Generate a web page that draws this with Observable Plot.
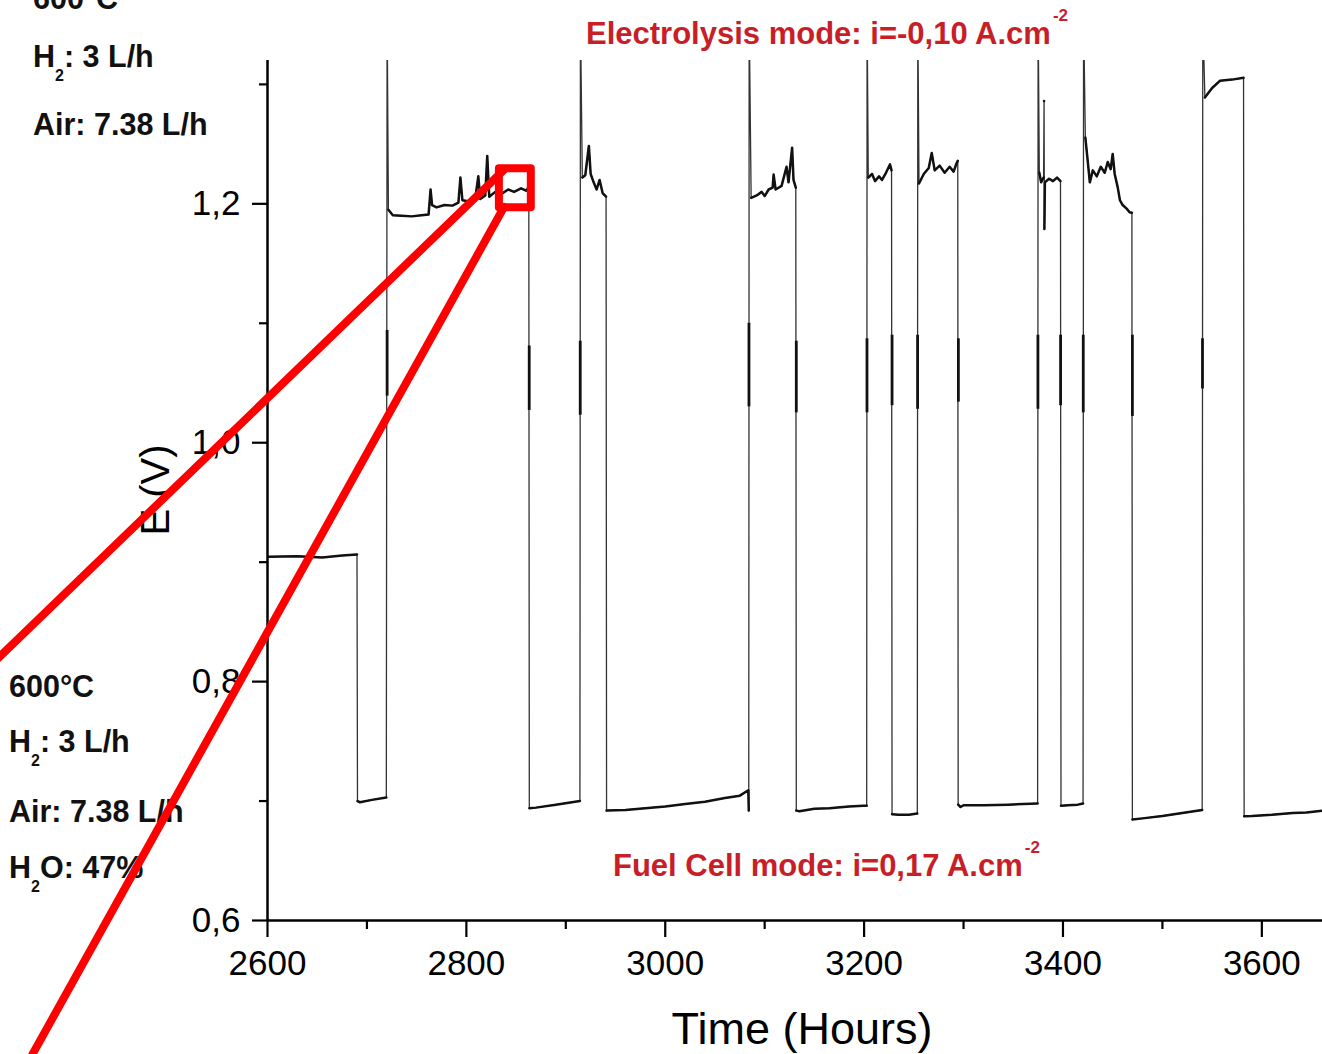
<!DOCTYPE html>
<html><head><meta charset="utf-8">
<script src="https://cdn.jsdelivr.net/npm/d3@7"></script>
<script src="https://cdn.jsdelivr.net/npm/@observablehq/plot@0.6"></script>
<style>
body{margin:0;background:#fff;}
#wrap{position:relative;width:1322px;height:1054px;overflow:hidden;font-family:"Liberation Sans",Arial,sans-serif;background:#fff;}
#labels{position:absolute;left:0;top:0;width:1322px;height:1054px;}
#chart{position:absolute;left:0;top:0;}
.lab{position:absolute;font-weight:bold;font-size:30.5px;color:#111;white-space:nowrap;line-height:1;}
.lab sub{font-size:16px;line-height:0;vertical-align:-14px;}
.red{position:absolute;font-weight:bold;font-size:31px;color:#c81e28;white-space:nowrap;line-height:1;}
.red sup{font-size:17px;line-height:0;vertical-align:23px;margin-left:2px;}
.ttl{position:absolute;white-space:nowrap;line-height:1;color:#000;}
</style>
</head><body>
<div id="wrap">
  <div id="labels">
    <div class="lab" style="left:33px;top:-17px">600°C</div>
    <div class="lab" style="left:33px;top:41px">H<sub>2</sub>: 3 L/h</div>
    <div class="lab" style="left:33px;top:109px">Air: 7.38 L/h</div>
    <div class="lab" style="left:9px;top:671px">600°C</div>
    <div class="lab" style="left:9px;top:726px">H<sub>2</sub>: 3 L/h</div>
    <div class="lab" style="left:9px;top:796px">Air: 7.38 L/h</div>
    <div class="lab" style="left:9px;top:852px">H<sub>2</sub>O: 47%</div>
    <div class="red" style="left:586px;top:16px">Electrolysis mode: i=-0,10 A.cm<sup>-2</sup></div>
    <div class="red" style="left:613px;top:848px">Fuel Cell mode: i=0,17 A.cm<sup>-2</sup></div>
    <div class="ttl" style="left:155px;top:490px;font-size:40px;transform:translate(-50%,-50%) rotate(-90deg);">E (V)</div>
    <div class="ttl" style="left:802px;top:1006px;font-size:45px;transform:translateX(-50%);">Time (Hours)</div>
  </div>
  <div id="chart"></div>
</div>
<script>
// ---- data ----
const timeH = [
  2600, 2630, 2655, 2675, 2690,
  2690.5, 2693, 2705, 2719.5,
  2720.3, 2721.6, 2726, 2735, 2745, 2755, 2762, 2764, 2765.5, 2770, 2778, 2786, 2792, 2794, 2796, 2803, 2809, 2812, 2814, 2819, 2821, 2823, 2829, 2835, 2842, 2848, 2855, 2860, 2862.8,
  2863.3, 2870, 2890, 2914.2,
  2914.7, 2916.6, 2919.6, 2923.2, 2925, 2928, 2931, 2934, 2937, 2940.5,
  2941, 2960, 2980, 3000, 3020, 3040, 3060, 3075, 3083.6, 3084,
  3084.4, 3086.4, 3092, 3097, 3100, 3104, 3108, 3109, 3111, 3117, 3122, 3124, 3127.6, 3129, 3131.3,
  3131.8, 3135, 3150, 3165, 3185, 3199, 3202.6,
  3203, 3204.2, 3208, 3211, 3215, 3218, 3222, 3226, 3227.6,
  3228.1, 3235, 3245, 3253.5,
  3254, 3255.2, 3260, 3265, 3268, 3271, 3276, 3281, 3286, 3290, 3293, 3294.2,
  3294.6, 3297, 3300, 3320, 3345, 3374.5,
  3375, 3376.2, 3378, 3380.5, 3381, 3381.3, 3381.8, 3386, 3390, 3394, 3397.5,
  3398, 3405, 3415, 3420.2,
  3420.7, 3422.5, 3425, 3427, 3430, 3434, 3438, 3442, 3445, 3448, 3450, 3452, 3455, 3457.3, 3460, 3464, 3467, 3469.3,
  3469.8, 3480, 3500, 3520, 3540,
  3540.6, 3542.7, 3550, 3557.8, 3570, 3581.6,
  3582.2, 3590, 3610, 3631, 3645, 3661
];
const voltage = [
  0.9045, 0.9050, 0.9040, 0.9055, 0.9065,
  0.700, 0.699, 0.701, 0.703,
  1.36, 1.195, 1.1905, 1.190, 1.1895, 1.1905, 1.191, 1.212, 1.199, 1.197, 1.199, 1.1985, 1.201, 1.222, 1.203, 1.202, 1.205, 1.223, 1.204, 1.207, 1.240, 1.206, 1.210, 1.208, 1.212, 1.210, 1.213, 1.211, 1.214,
  0.694, 0.6945, 0.697, 0.700,
  1.36, 1.222, 1.224, 1.2485, 1.225, 1.218, 1.212, 1.220, 1.209, 1.206,
  0.692, 0.6925, 0.694, 0.6955, 0.6975, 0.6995, 0.7025, 0.7045, 0.709, 0.692,
  1.36, 1.205, 1.207, 1.210, 1.2065, 1.212, 1.2135, 1.2245, 1.212, 1.215, 1.231, 1.218, 1.247, 1.220, 1.2135,
  0.692, 0.6915, 0.6935, 0.694, 0.6955, 0.696, 0.696,
  1.36, 1.222, 1.225, 1.219, 1.223, 1.220, 1.226, 1.233, 1.228,
  0.689, 0.6885, 0.6885, 0.6895,
  1.36, 1.217, 1.225, 1.230, 1.2425, 1.228, 1.232, 1.226, 1.231, 1.227, 1.234, 1.236,
  0.697, 0.695, 0.6965, 0.6965, 0.697, 0.698,
  1.36, 1.226, 1.218, 1.222, 1.286, 1.179, 1.218, 1.221, 1.219, 1.222, 1.219,
  0.696, 0.6965, 0.697, 0.698,
  1.36, 1.2555, 1.235, 1.218, 1.228, 1.223, 1.231, 1.226, 1.235, 1.229, 1.2418, 1.225, 1.214, 1.203, 1.199, 1.196, 1.193, 1.1925,
  0.6845, 0.6855, 0.6875, 0.690, 0.6925,
  1.36, 1.289, 1.297, 1.303, 1.304, 1.3055,
  0.6873, 0.6875, 0.6885, 0.690, 0.6905, 0.692
];
// thicker open-circuit parts of the switching transitions
const ocvTime = [2720.3, 2863.2, 2914.5, 3084.2, 3131.8, 3202.9, 3228.1, 3253.8, 3294.8, 3374.8, 3397.6, 3420.4, 3469.8, 3540.3];
const ocvLow  = [1.039, 1.027, 1.023, 1.030, 1.025, 1.025, 1.031, 1.028, 1.034, 1.028, 1.031, 1.025, 1.022, 1.045];
const ocvHigh = [1.094, 1.081, 1.085, 1.100, 1.085, 1.087, 1.090, 1.090, 1.087, 1.090, 1.090, 1.090, 1.090, 1.087];

// axis ticks
const majorX = [2600, 2800, 3000, 3200, 3400, 3600];
const minorX = [2700, 2900, 3100, 3300, 3500];
const majorY = [0.6, 0.8, 1.0, 1.2];
const minorY = [0.7, 0.9, 1.1, 1.3];

// red zoom call-out (data units)
const calloutBoxT = [2833.2, 2865.3];
const calloutBoxV = [1.1967, 1.2293];
const calloutFromT = [2836.8, 2838.0];
const calloutFromV = [1.2276, 1.1975];
const calloutToT = [2321.3, 2353.5];
const calloutToV = [0.8134, 0.4728];

// ---- build ----
const data = timeH.map((t, i) => ({t, v: voltage[i]}));
let g = 0;
data.forEach((d, i) => { if (i > 0 && Math.abs(d.v - data[i - 1].v) > 0.05) g++; d.g = g; });
const ocv = ocvTime.map((t, i) => ({t, lo: ocvLow[i], hi: ocvHigh[i]}));
const box = [{x1: calloutBoxT[0], x2: calloutBoxT[1], y1: calloutBoxV[0], y2: calloutBoxV[1]}];
const links = calloutFromT.map((t, i) => ({x1: t, y1: calloutFromV[i], x2: calloutToT[i], y2: calloutToV[i]}));
const fmt = d => d.toFixed(1).replace(".", ",");

const plot = Plot.plot({
  width: 1322, height: 1054,
  marginLeft: 267, marginRight: 0, marginTop: 60, marginBottom: 134,
  style: {fontFamily: "'Liberation Sans', Arial, sans-serif", fontSize: "35px", color: "#000", background: "none", overflow: "visible"},
  x: {domain: [2600, 3661]},
  y: {domain: [0.6, 1.32]},
  marks: [
    Plot.line(data, {x: "t", y: "v", stroke: "#333", strokeWidth: 1.3, clip: true}),
    Plot.line(data, {x: "t", y: "v", z: "g", stroke: "#111", strokeWidth: 2.5, strokeLinejoin: "round", clip: true}),
    Plot.ruleX(ocv, {x: "t", y1: "lo", y2: "hi", stroke: "#111", strokeWidth: 2.8}),
    Plot.ruleY([0.6], {stroke: "#000", strokeWidth: 2.5}),
    Plot.ruleX([2600], {stroke: "#000", strokeWidth: 2.5}),
    Plot.axisX(majorX, {tickSize: 17, tickPadding: 13, tickFormat: d => String(d), strokeWidth: 2.2, label: null, fontSize: 35}),
    Plot.axisX(minorX, {tickSize: 9, tickFormat: () => "", strokeWidth: 2.2, label: null}),
    Plot.axisY(majorY, {tickSize: 15, tickPadding: 12, tickFormat: fmt, strokeWidth: 2.2, label: null, fontSize: 35}),
    Plot.axisY(minorY, {tickSize: 8, tickFormat: () => "", strokeWidth: 2.2, label: null}),
    Plot.rect(box, {x1: "x1", x2: "x2", y1: "y1", y2: "y2", fill: "none", stroke: "#ff0000", strokeWidth: 8, strokeLinejoin: "round"}),
    Plot.link(links, {x1: "x1", y1: "y1", x2: "x2", y2: "y2", stroke: "#ff0000", strokeWidth: 8, strokeLinecap: "round"})
  ]
});
document.getElementById("chart").appendChild(plot);
</script>
</body></html>
